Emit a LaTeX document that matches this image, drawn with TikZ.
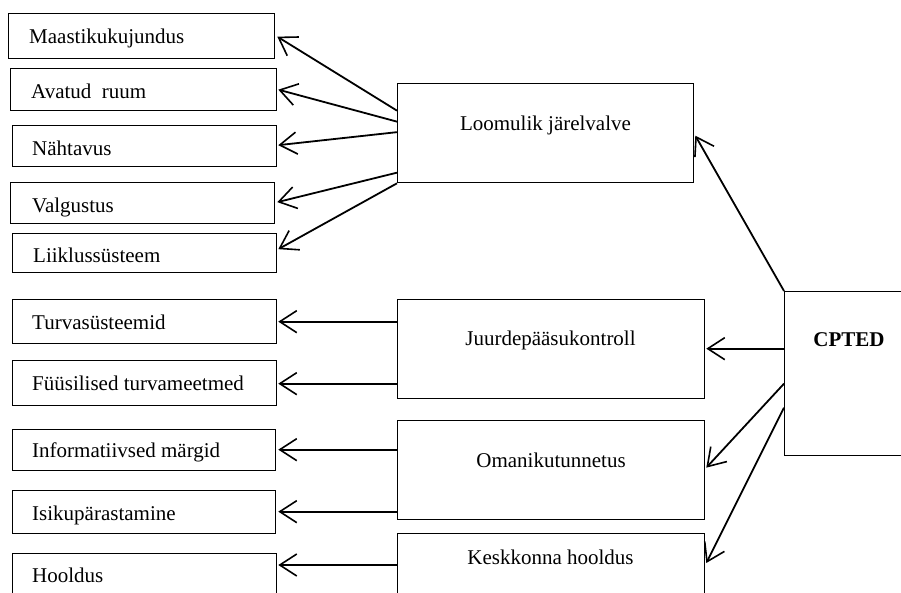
\documentclass[tikz,border=0pt]{standalone}
\usepackage{fontspec}
\setmainfont{Liberation Serif}
\usetikzlibrary{arrows.meta,calc}
\tikzset{
  box/.style={draw, line width=1.3pt, inner sep=0pt, anchor=north west},
  lbl/.style={font=\fontsize{21}{21}\selectfont, inner sep=0pt},
  arr/.style={line width=1.8pt, -{Straight Barb[length=17pt,width=22pt,line width=1.6pt]}}
}
\begin{document}
\begin{tikzpicture}[x=1pt,y=-1pt]
\useasboundingbox (0,0) rectangle (901,592);
\clip (0,0) rectangle (901,592);
% left boxes
\node[box, minimum width=266pt, minimum height=45pt] (m1) at (8,13) {};
\node[box, minimum width=266pt, minimum height=42pt] (m2) at (10,68) {};
\node[box, minimum width=264pt, minimum height=41pt] (m3) at (12,125) {};
\node[box, minimum width=264pt, minimum height=41pt] (m4) at (10,182) {};
\node[box, minimum width=264pt, minimum height=39pt] (m5) at (12,233) {};
\node[box, minimum width=264pt, minimum height=44pt] (m6) at (12,299) {};
\node[box, minimum width=264pt, minimum height=45pt] (m7) at (12,360) {};
\node[box, minimum width=263pt, minimum height=41pt] (m8) at (12,429) {};
\node[box, minimum width=263pt, minimum height=43pt] (m9) at (12,490) {};
\node[box, minimum width=264pt, minimum height=60pt] (m10) at (12,553) {};
\node[lbl, anchor=base west] (t1) at (29,43) {Maastikukujundus};
\node[lbl, anchor=base west] (t2) at (31,98) {Avatud\ \ ruum};
\node[lbl, anchor=base west] (t3) at (32,155) {Nähtavus};
\node[lbl, anchor=base west] (t4) at (32,212) {Valgustus};
\node[lbl, anchor=base west] (t5) at (33,262) {Liiklussüsteem};
\node[lbl, anchor=base west] (t6) at (32,329) {Turvasüsteemid};
\node[lbl, anchor=base west] (t7) at (32,390) {Füüsilised turvameetmed};
\node[lbl, anchor=base west] (t8) at (32,457) {Informatiivsed märgid};
\node[lbl, anchor=base west] (t9) at (32,520) {Isikupärastamine};
\node[lbl, anchor=base west] (t10) at (32,582) {Hooldus};
% middle boxes
\node[box, minimum width=296pt, minimum height=99pt] (lj) at (397,83) {};
\node[box, minimum width=307pt, minimum height=99pt] (jk) at (397,299) {};
\node[box, minimum width=307pt, minimum height=99pt] (ot) at (397,420) {};
\node[box, minimum width=307pt, minimum height=80pt] (kh) at (397,533) {};
\node[lbl, anchor=base] (tlj) at (545.5,130) {Loomulik järelvalve};
\node[lbl, anchor=base] (tjk) at (550.5,345) {Juurdepääsukontroll};
\node[lbl, anchor=base] (tot) at (551,467) {Omanikutunnetus};
\node[lbl, anchor=base] (tkh) at (550.5,564) {Keskkonna hooldus};
% CPTED
\node[box, minimum width=140pt, minimum height=164pt] (cp) at (784,291) {};
\node[lbl, anchor=base, font=\fontsize{21}{21}\selectfont\bfseries] (tcp) at (849,346) {CPTED};
% arrows from Loomulik
\draw[arr] ($(lj.west)+(0,-22.5)$) -- ($(m1.east)+(2,0.5)$);
\draw[arr] ($(lj.west)+(0,-11.5)$) -- ($(m2.east)+(1,0)$);
\draw[arr] ($(lj.west)+(0,-1)$) -- ($(m3.east)+(1,-1)$);
\draw[arr] ($(lj.west)+(0,39.5)$) -- ($(m4.east)+(2,-1)$);
\draw[arr] (lj.south west) -- ($(m5.east)+(1,-4)$);
% arrows from Juurdepaasukontroll
\draw[arr] ($(jk.west)+(0,-27.5)$) -- ($(m6.east)+(1,0)$);
\draw[arr] ($(jk.west)+(0,34.5)$) -- ($(m7.east)+(1,0.5)$);
% arrows from Omanikutunnetus
\draw[arr] ($(ot.west)+(0,-20.5)$) -- ($(m8.east)+(2,-0.5)$);
\draw[arr] ($(ot.west)+(0,41.5)$) -- ($(m9.east)+(2,-0.5)$);
% arrow from Keskkonna hooldus
\draw[arr] ($(kh.north west)+(0,32)$) -- ($(m10.north east)+(1,12)$);
% arrows from CPTED
\draw[arr] (cp.north west) -- ($(lj.east)+(1,2.5)$);
\draw[arr] ($(cp.west)+(0,-25)$) -- ($(jk.east)+(1,-0.5)$);
\draw[arr] ($(cp.west)+(0,10)$) -- ($(ot.east)+(1,-2.5)$);
\draw[arr] ($(cp.west)+(0,34)$) -- ($(kh.north east)+(1,30)$);
\end{tikzpicture}
\end{document}
